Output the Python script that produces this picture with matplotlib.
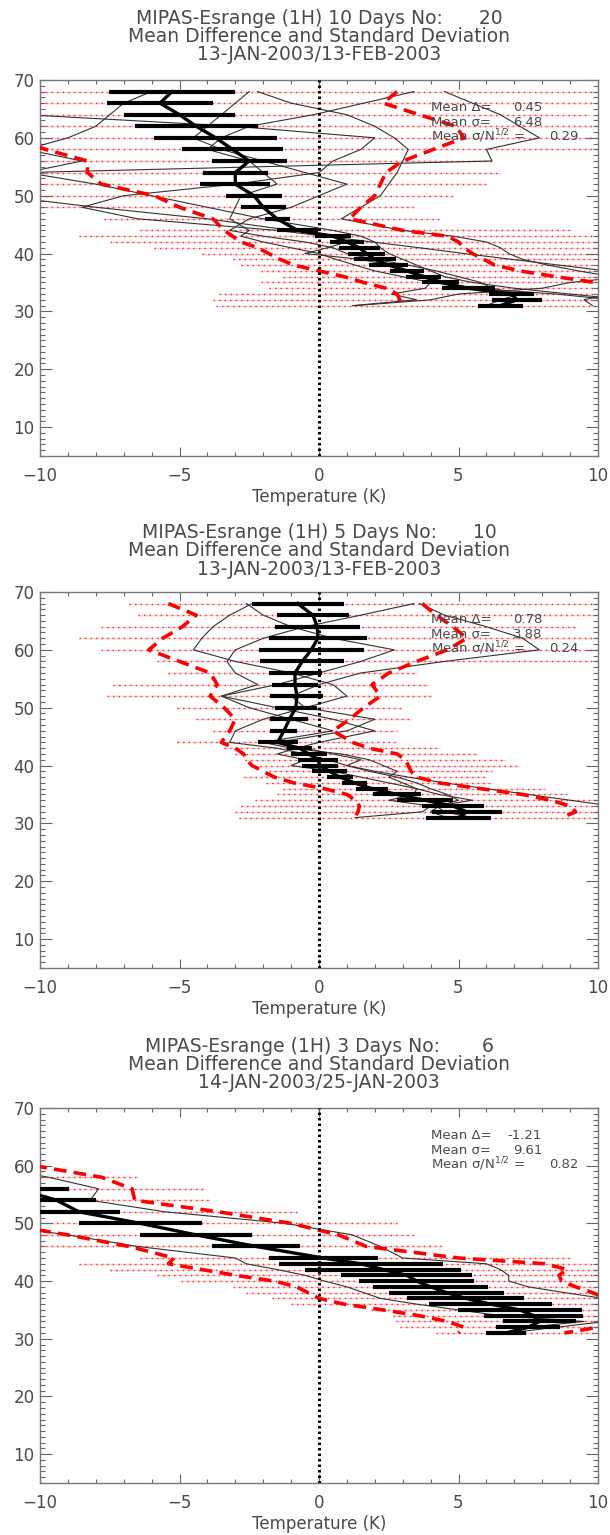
import numpy as np
import matplotlib
matplotlib.use("Agg")
import matplotlib.pyplot as plt
from matplotlib.ticker import MultipleLocator

nan = np.nan

# altitude levels (km), top to bottom
levels = [68, 66, 64, 62, 60, 58, 56, 54, 52, 50, 48, 46, 44,
          43, 42, 41, 40, 39, 38, 37, 36, 35, 34, 33, 32, 31]

# ---------------- panel 1 : 10 days, No 20 ----------------
p1_title = ["MIPAS-Esrange (1H) 10 Days No:      20",
            "Mean Difference and Standard Deviation",
            "13-JAN-2003/13-FEB-2003"]
p1_stats = ["0.45", "6.48", "0.29"]
p1_mean = [-5.27, -5.7, -5.0, -4.4, -3.7, -3.1, -2.5, -3.0, -3.0, -2.33, -2.0, -1.5, -0.77,
           0.5, 1.0, 1.45, 1.7, 2.0, 2.5, 3.15, 3.75, 4.35, 5.35, 6.9, 7.1, 6.5]
p1_err = [2.27, 1.9, 2.0, 2.2, 2.2, 1.8, 1.35, 1.17, 1.25, 1.0, 0.8, 0.45, 0.73,
          0.65, 0.62, 0.75, 0.65, 0.75, 0.7, 0.62, 0.62, 0.67, 0.95, 0.8, 0.9, 0.8]
p1_sdlo = [-14, -13.5, -13, -12, -11, -9.8, -8.3, -8.3, -7.8, -5.9, -5.0, -3.8, -3.4,
           -3.1, -2.8, -2.2, -1.8, -1.4, -0.9, 0.0, 0.9, 1.6, 2.4, 2.8, 2.9, 2.9]
p1_sdhi = [2.8, 2.3, 3.6, 4.9, 5.2, 4.1, 3.0, 2.4, 2.2, 2.0, 1.5, 1.1, 3.0,
           4.6, 5.0, 5.2, 5.5, 5.9, 6.3, 7.2, 8.5, 9.9, 11, 11.5, 12, 12]
p1_rnglo = [-10, -10, -10, -10, -10, -10, -10, -10, -10, -10, -10, -7.7, -6.4,
            -8.6, -7.5, -5.9, -4.2, -3.1, -2.8, -2.07, -1.3, -2.07, -1.8, -3.6, -3.8, -3.7]
p1_rnghi = [10, 10, 9.7, 10, 10, 10, 6.2, 6.5, 6.0, 4.8, 3.4, 4.35, 9.05,
            10, 10, 10, 10, 10, 10, 10, 10, 10, 10, 10, 10, 10]
p1_prof = [
    [3.4, 1.6, -0.2, -2.5, -3.5, -4.0, -2.5, -2.0, -1.5, -2.8, -3.0, -3.2, -2.5,
     -2.8, -2.0, -1.0, 0.0, 0.6, 1.3, 2.0, 3.0, 4.0, 3.8, 2.6, 3.5, 1.2],
    [-2.2, -1.0, 1.0, 2.0, 2.7, 3.2, 3.0, 2.8, 2.5, 2.2, 1.5, 0.8, 3.0,
     4.8, 6.0, 6.5, 6.8, 7.3, 8.2, 9.3, 10.5, 11.5, 12, 10.5, 9.5, 9.8],
    [-2.5, -3.0, -3.5, -4.0, -4.5, -3.5, -2.0, -0.5, 1.0, 0.0, -1.0, -2.5, -3.2,
     -2.0, -0.5, 0.5, 1.0, 2.0, 3.2, 4.2, 5.0, 5.8, 6.2, 7.2, 6.5, 6.0],
    [4.5, 5.5, 6.5, 7.2, 7.9, 6.0, 6.2, -10.5, -8.0, -6.0, -4.0, -2.0, 0.5,
     1.5, 2.0, 2.2, 2.5, 3.0, 3.5, 4.0, 4.5, 5.5, 7.0, 9.0, 11, 10.5],
    [-12, -11, -10.5, -3.0, 2.0, 1.5, 0.5, 0.0, -3.0, -7.0, -8.5, -6.5, -1.5,
     0.2, 1.9, 3.6, 5.2, 6.9, 8.6, 10.3, 11, 9.0, 8.0, 5.0, 4.0, 1.3],
    [-6.0, -7.0, -7.5, -8.0, -9.0, -10.5, -8.5, -10.5, -12, -11.5, -8.0, -4.0, -1.0,
     0.5, 1.0, 0.3, -0.5, 1.5, 2.5, 3.0, 4.0, 4.5, 5.5, 8.5, 10.5, 11],
]

# ---------------- panel 2 : 5 days, No 10 ----------------
p2_title = ["MIPAS-Esrange (1H) 5 Days No:      10",
            "Mean Difference and Standard Deviation",
            "13-JAN-2003/13-FEB-2003"]
p2_stats = ["0.78", "3.88", "0.24"]
p2_mean = [-0.76, -0.22, -0.06, -0.04, -0.28, -0.6, -0.86, -0.86, -0.79, -0.83, -1.06, -1.26, -1.48,
           -0.7, -0.37, -0.04, 0.03, 0.38, 0.75, 1.27, 1.9, 2.8, 3.8, 4.8, 5.3, 5.0]
p2_err = [1.64, 1.3, 1.52, 1.76, 1.88, 1.5, 0.95, 0.82, 0.95, 0.75, 0.68, 0.48, 0.72,
          0.45, 0.65, 0.72, 0.65, 0.62, 0.46, 0.46, 0.58, 0.85, 1.0, 1.1, 1.25, 1.15]
p2_sdlo = [-5.4, -4.4, -4.9, -5.6, -6.1, -5.0, -3.9, -3.65, -3.9, -3.4, -3.0, -3.2, -3.5,
           -3.0, -2.7, -2.6, -2.4, -2.0, -1.6, -0.9, 0.2, 1.0, 1.3, 1.45, 1.4, 1.27]
p2_sdhi = [3.7, 4.2, 4.8, 5.3, 4.6, 3.5, 2.5, 1.9, 2.2, 1.6, 1.1, 0.5, 1.2,
           1.8, 2.8, 3.1, 3.2, 3.3, 3.5, 4.3, 5.8, 7.3, 8.3, 9.0, 9.2, 8.7]
p2_rnglo = [-6.8, -6.5, -7.8, -8.6, -7.8, -5.8, -5.4, -7.4, -7.6, -5.1, -4.4, -3.8, -5.1,
            -3.4, -3.0, -2.66, -2.33, -1.8, -2.7, -1.9, -1.3, -1.5, -2.3, -2.8, -3.0, -2.85]
p2_rnghi = [10, 10, 9.2, 10, 10, 10, 3.5, 3.95, 4.0, 2.97, 3.3, 2.8, 2.8,
            4.35, 5.7, 6.7, 7.2, 6.2, 6.0, 6.2, 8.1, 8.9, 10, 10, 10, 10]
p2_prof = [
    [-2.4, -3.2, -3.8, -4.2, -4.5, -3.0, -1.0, 0.5, 1.0, -0.5, -2.0, -3.0, -3.2,
     -1.5, -0.5, 0.3, 1.0, 2.0, 3.2, 4.5, 6.0, 7.5, 9.0, 10.5, 11, 10.2],
    [-2.6, -2.0, -1.0, 0.5, 2.7, 1.5, 0.0, -1.5, -3.5, -2.5, -1.0, 0.5, -2.0,
     -1.0, 0.8, 1.8, 2.3, 2.8, 2.5, 3.0, 3.5, 3.4, 2.5, 4.0, 3.7, 1.3],
    [3.4, 1.5, -0.5, -2.0, -3.0, -3.3, -3.0, -2.2, -3.5, -1.5, 0.5, 2.0, 0.0,
     -0.8, -1.5, -0.5, -1.0, 0.5, 1.5, 2.5, 3.5, 4.3, 5.5, 4.2, 4.5, 5.5],
    [3.6, 4.5, 6.0, 7.3, 7.9, 4.5, 1.5, 0.0, -1.0, -0.5, 2.0, 1.0, -1.5,
     -0.5, 0.5, 1.5, 1.0, 1.8, 2.8, 3.5, 4.0, 4.6, 5.0, 4.3, 4.0, 4.6],
]

# ---------------- panel 3 : 3 days, No 6 ----------------
p3_title = ["MIPAS-Esrange (1H) 3 Days No:       6",
            "Mean Difference and Standard Deviation",
            "14-JAN-2003/25-JAN-2003"]
p3_stats = ["-1.21", "9.61", "0.82"]
p3_mean = [nan, nan, nan, nan, nan, nan, -10.8, -9.4, -8.6, -6.4, -4.4, -2.26, 0.15,
           1.5, 2.3, 3.15, 3.5, 4.0, 4.57, 5.26, 6.15, 7.2, 7.7, 7.9, 7.5, 6.7]
p3_err = [nan, nan, nan, nan, nan, nan, 1.85, 1.4, 1.45, 2.2, 2.0, 1.57, 1.95,
          2.93, 2.8, 2.35, 2.07, 2.07, 2.05, 2.1, 2.2, 2.22, 1.78, 1.3, 1.15, 0.73]
p3_sdlo = [nan, nan, nan, nan, -20, -18, -17, -15, -13, -11.5, -9.0, -6.8, -5.2,
           -5.4, -4.2, -3.0, -1.6, -0.8, -0.4, 0.0, 0.9, 2.3, 3.6, 4.6, 5.2, 5.0]
p3_sdhi = [nan, nan, nan, nan, -10.2, -7.8, -6.7, -6.6, -3.6, -1.0, 0.7, 1.7, 5.0,
           8.1, 8.9, 8.6, 8.7, 9.2, 9.8, 10.3, 11, 11.5, 11, 10.4, 10.0, 8.8]
p3_rnglo = [nan, nan, nan, nan, nan, -10, -10, -10, -10, -10, -10, -10, -6.4,
            -8.6, -7.5, -5.8, -4.95, -3.1, -2.6, -1.7, -1.0, 1.86, 2.64, 2.77, 2.9, 4.2]
p3_rnghi = [nan, nan, nan, nan, nan, -6.5, -4.1, -3.9, -0.8, 2.8, 3.4, 4.4, 9.05,
            10, 10, 10, 10, 10, 10, 10, 10, 10, 10, 10, 10, 10]
p3_prof = [
    [nan, nan, nan, nan, -12, -9.7, -7.9, -8.2, -5.5, -1.2, 1.2, 2.2, 3.0,
     6.0, 6.5, 6.8, 6.8, 7.5, 8.8, 10.2, 11.5, 12, 11.5, 10.3, 8.5, 6.8],
    [nan, nan, nan, nan, nan, nan, nan, nan, nan, -12, -9.0, -6.5, -3.0,
     -2.6, -1.5, -0.5, 0.2, 1.0, 1.6, 2.2, 3.5, 5.0, 6.5, 9.5, 7.5, 6.8],
]

# ---------------------------------------------------------------
W, H = 610, 1535
fig = plt.figure(figsize=(W / 100, H / 100), dpi=100)
txt_col = "#4a4a4a"


def draw_panel(top_px, bot_px, title, mean, err, sdlo, sdhi, rnglo, rnghi, profs, stats, title_px):
    ax = fig.add_axes([40 / W, 1 - bot_px / H, 558 / W, (bot_px - top_px) / H])
    lev = np.array(levels, float)

    # red dotted ranges at each level
    lo, hi = np.array(rnglo, float), np.array(rnghi, float)
    ok = ~np.isnan(lo)
    ax.hlines(lev[ok], lo[ok], hi[ok], color="#ffcaca", lw=1.0, zorder=1)
    ax.hlines(lev[ok], lo[ok], hi[ok], color="#ff2a2a", lw=1.0, linestyles=(0, (1, 3)), zorder=1)

    # individual profiles
    for p in profs:
        ax.plot(p, lev, color="#333333", lw=0.8, zorder=2)

    # mean +- sigma
    ax.plot(sdlo, lev, color="red", lw=2.6, ls=(0, (3.5, 2)), zorder=3)
    ax.plot(sdhi, lev, color="red", lw=2.6, ls=(0, (3.5, 2)), zorder=3)

    # mean and error bars
    m, e = np.array(mean, float), np.array(err, float)
    ok = ~np.isnan(m)
    ax.hlines(lev[ok], m[ok] - e[ok], m[ok] + e[ok], color="black", lw=3.0, zorder=4)
    ax.plot(m, lev, color="black", lw=2.4, zorder=5)

    ax.axvline(0, color="black", lw=2.2, ls=(0, (0.8, 1.0)), zorder=6)

    ax.set_xlim(-10, 10)
    ax.set_ylim(5, 70)
    ax.xaxis.set_major_locator(MultipleLocator(5))
    ax.xaxis.set_minor_locator(MultipleLocator(1))
    ax.yaxis.set_minor_locator(MultipleLocator(1))
    ax.set_yticks(range(10, 71, 10))
    ax.tick_params(axis="both", which="both", direction="in", top=True, right=True,
                   colors="#666666", labelcolor=txt_col, labelsize=12, width=0.8)
    ax.tick_params(axis="x", which="major", length=6.5, pad=8)
    ax.tick_params(axis="x", which="minor", length=3)
    ax.tick_params(axis="y", which="major", length=8.5, pad=4)
    ax.tick_params(axis="y", which="minor", length=3.5)
    for s in ax.spines.values():
        s.set_color("#777777")
        s.set_linewidth(1.0)
    ax.set_xlabel("Temperature (K)", fontsize=12, color=txt_col, labelpad=2)

    # statistics text
    names = ["Mean \u0394=", "Mean \u03c3=", "Mean \u03c3/N$^{1/2}$ ="]
    vx = [8.0, 8.0, 9.3]
    for i, (nm, v) in enumerate(zip(names, stats)):
        yy = 65.2 - i * 2.5
        ax.text(4.0, yy, nm, fontsize=9.5, color=txt_col, va="center", ha="left", zorder=7)
        ax.text(vx[i], yy, v, fontsize=9.5, color=txt_col, va="center", ha="right", zorder=7)

    for t, ty in zip(title, title_px):
        fig.text(319 / W, 1 - ty / H, t, ha="center", va="center", fontsize=13.5, color=txt_col)
    return ax


draw_panel(80, 456, p1_title, p1_mean, p1_err, p1_sdlo, p1_sdhi, p1_rnglo, p1_rnghi,
           p1_prof, p1_stats, [18, 36, 54])
draw_panel(592, 968, p2_title, p2_mean, p2_err, p2_sdlo, p2_sdhi, p2_rnglo, p2_rnghi,
           p2_prof, p2_stats, [532, 551, 570])
draw_panel(1108, 1483, p3_title, p3_mean, p3_err, p3_sdlo, p3_sdhi, p3_rnglo, p3_rnghi,
           p3_prof, p3_stats, [1047, 1065, 1083])

fig.savefig("out.png", dpi=100)
